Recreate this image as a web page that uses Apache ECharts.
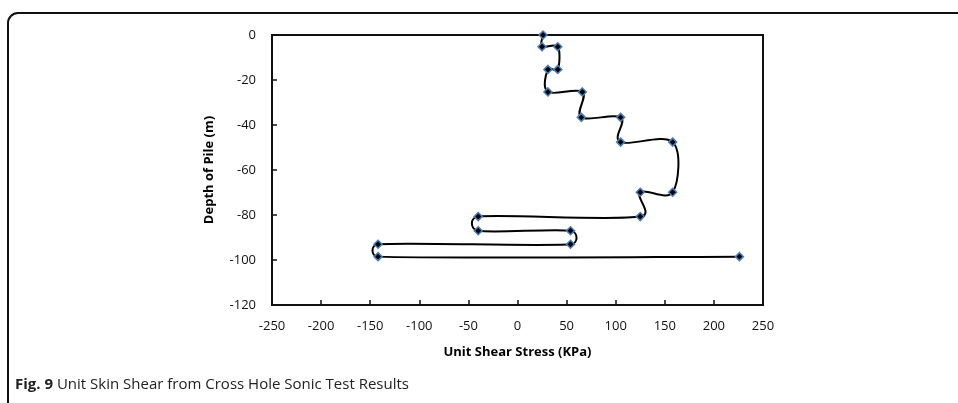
<!DOCTYPE html>
<html>
<head>
<meta charset="utf-8">
<script src="https://cdn.jsdelivr.net/npm/echarts@6/dist/echarts.min.js"></script>
<style>
  html, body { margin: 0; padding: 0; background: #fff; }
  #main { width: 958px; height: 403px; }
</style>
</head>
<body>
<div id="main"></div>
<script>
// shear stress (KPa) and depth (m)
var shearStress = [26, 25, 41, 41, 31, 31, 66, 65, 105, 105, 158, 158, 125, 125, -40, -40, 54, 54, -142, -142, 226];
var depth = [0, -5.2, -5.2, -15.3, -15.3, -25.3, -25.3, -36.6, -36.6, -47.6, -47.6, -69.9, -69.9, -80.7, -80.7, -87, -87, -93, -93, -98.5, -98.5];

var xTicks = { min: -250, max: 250, step: 50 };
var yTicks = { min: -120, max: 0, step: 20 };

var points = [];
for (var i = 0; i < depth.length; i++) {
    points.push([shearStress[i], depth[i]]);
}

var myChart = echarts.init(document.getElementById('main'));

var font = '"Open Sans", "DejaVu Sans", sans-serif';
var tension = 0.18;   // tangent = (next - prev) * tension
var maxHandle = 0.6;  // handle never longer than this part of the segment

// Excel-like smoothed line: bezier through the pixel positions that the axes give
function renderCurve(params, api) {
    if (params.dataIndex !== 0) return null;
    var p = points.map(function (d) { return api.coord(d); });
    var n = p.length;
    function tangent(i) {
        var a = p[Math.max(i - 1, 0)], b = p[Math.min(i + 1, n - 1)];
        return [(b[0] - a[0]) * tension, (b[1] - a[1]) * tension];
    }
    function clamp(t, len) {
        var l = Math.sqrt(t[0] * t[0] + t[1] * t[1]);
        var m = len * maxHandle;
        if (l > m && l > 0) return [t[0] * m / l, t[1] * m / l];
        return t;
    }
    var path = 'M' + p[0][0] + ' ' + p[0][1];
    for (var j = 0; j < n - 1; j++) {
        var p0 = p[j], p1 = p[j + 1];
        var len = Math.sqrt((p1[0] - p0[0]) * (p1[0] - p0[0]) + (p1[1] - p0[1]) * (p1[1] - p0[1]));
        var t0 = clamp(tangent(j), len), t1 = clamp(tangent(j + 1), len);
        path += ' C' + (p0[0] + t0[0]) + ' ' + (p0[1] + t0[1]) + ' ' +
            (p1[0] - t1[0]) + ' ' + (p1[1] - t1[1]) + ' ' + p1[0] + ' ' + p1[1];
    }
    return {
        type: 'path',
        shape: { pathData: path },
        style: { fill: null, stroke: '#000', lineWidth: 2 }
    };
}

option = {
    backgroundColor: '#fff',
    animation: false,
    textStyle: { fontFamily: font },
    title: {
        left: 10,
        top: 372,
        text: '{b|Fig. 9} Unit Skin Shear from Cross Hole Sonic Test Results',
        textStyle: {
            fontFamily: font,
            fontSize: 15,
            fontWeight: 'normal',
            color: '#222',
            rich: {
                b: { fontFamily: font, fontSize: 15, fontWeight: 'bold', color: '#222' }
            }
        }
    },
    graphic: [{
        type: 'rect',
        shape: { x: 8, y: 13, width: 1000, height: 500, r: 10 },
        style: { fill: null, stroke: '#111', lineWidth: 2 },
        silent: true
    }],
    grid: {
        left: 272,
        right: 195,
        top: 35,
        bottom: 98,
        show: true,
        borderColor: '#111',
        borderWidth: 2
    },
    xAxis: {
        type: 'value',
        min: xTicks.min,
        max: xTicks.max,
        interval: xTicks.step,
        name: 'Unit Shear Stress (KPa)',
        nameLocation: 'middle',
        nameGap: 41,
        nameTextStyle: { fontFamily: font, fontSize: 13, fontWeight: 'bold', color: '#000' },
        axisLine: { onZero: false, lineStyle: { color: '#111', width: 2 } },
        axisTick: { inside: true, length: 5, lineStyle: { color: '#111', width: 1.5 } },
        axisLabel: { fontFamily: font, fontSize: 13, color: '#111', margin: 15 },
        splitLine: { show: false }
    },
    yAxis: {
        type: 'value',
        min: yTicks.min,
        max: yTicks.max,
        interval: yTicks.step,
        name: 'Depth of Pile (m)',
        nameLocation: 'middle',
        nameGap: 56,
        nameTextStyle: { fontFamily: font, fontSize: 13, fontWeight: 'bold', color: '#000' },
        axisLine: { onZero: false, lineStyle: { color: '#111', width: 2 } },
        axisTick: { inside: true, length: 5, lineStyle: { color: '#111', width: 1.5 } },
        axisLabel: { fontFamily: font, fontSize: 13, color: '#111', margin: 16 },
        splitLine: { show: false }
    },
    series: [{
        type: 'custom',
        data: points,
        renderItem: renderCurve,
        clip: false,
        z: 2,
        silent: true
    }, {
        type: 'line',
        data: points,
        symbol: 'diamond',
        symbolSize: 8,
        z: 3,
        lineStyle: { opacity: 0 },
        itemStyle: { color: '#000', borderColor: '#4a7ebb', borderWidth: 1.5 }
    }]
};

myChart.setOption(option);
</script>
</body>
</html>
